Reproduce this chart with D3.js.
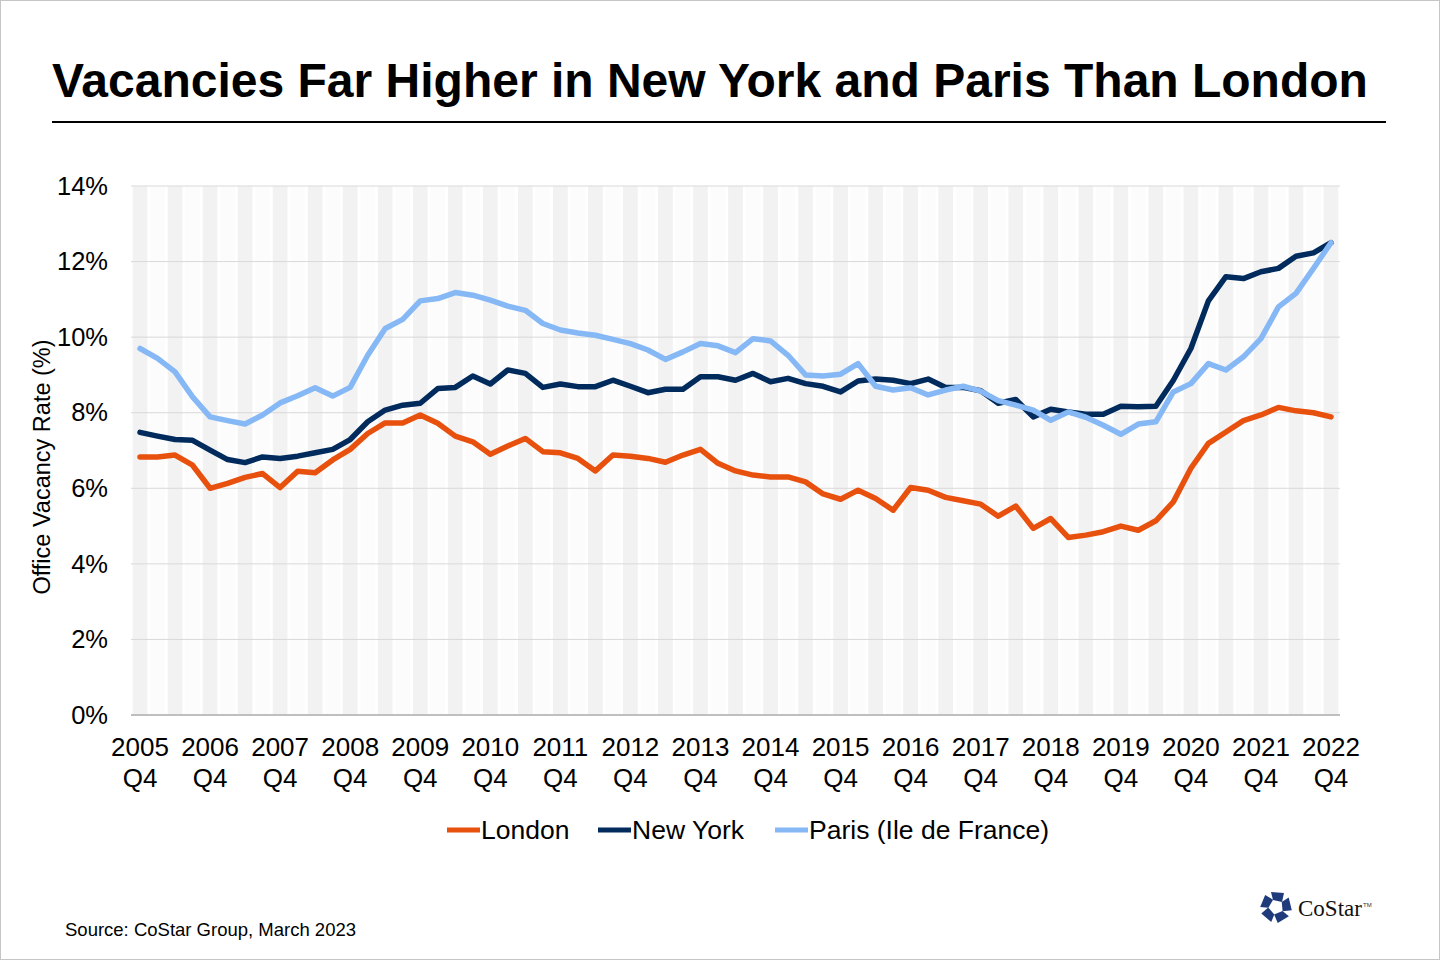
<!DOCTYPE html>
<html lang="en">
<head>
<meta charset="UTF-8">
<title>Office vacancy rates</title>
<style>
  body { margin: 0; background: #fff; }
  svg { display: block; font-family: "Liberation Sans", Arial, sans-serif; }
</style>
</head>
<body>
<svg id="chart" width="1440" height="960"></svg>
<script src="https://cdn.jsdelivr.net/npm/d3@7"></script>
<script>
// quarterly office vacancy rate (%), 2005 Q4 .. 2022 Q4
const periods = [];
d3.range(2005, 2023).forEach(function (y) {
  [1, 2, 3, 4].forEach(function (q) {
    if (y === 2005 && q < 4) return;
    periods.push(y + " Q" + q);
  });
});

const london = [6.83,6.83,6.88,6.61,6.00,6.13,6.29,6.39,6.02,6.45,6.41,6.75,7.03,7.45,
  7.73,7.73,7.94,7.72,7.38,7.23,6.90,7.12,7.32,6.97,6.94,6.79,6.46,6.88,
  6.85,6.79,6.69,6.88,7.03,6.66,6.46,6.35,6.30,6.30,6.17,5.85,5.71,5.95,
  5.73,5.42,6.02,5.95,5.76,5.67,5.58,5.26,5.53,4.94,5.20,4.70,4.76,4.85,
  5.00,4.89,5.14,5.64,6.53,7.19,7.49,7.79,7.94,8.14,8.05,8.00,7.89];

const newYork = [7.48,7.38,7.29,7.27,7.01,6.76,6.68,6.83,6.79,6.85,6.94,7.03,7.29,7.76,
  8.07,8.20,8.25,8.64,8.67,8.97,8.76,9.13,9.04,8.67,8.76,8.69,8.69,8.86,
  8.70,8.53,8.62,8.62,8.95,8.95,8.86,9.04,8.82,8.91,8.77,8.70,8.55,8.84,
  8.89,8.86,8.77,8.89,8.67,8.67,8.58,8.25,8.35,7.89,8.09,8.02,7.96,7.96,
  8.17,8.16,8.17,8.86,9.70,10.96,11.60,11.55,11.73,11.82,12.14,12.23,12.50];

const paris = [9.70,9.44,9.08,8.42,7.89,7.79,7.70,7.94,8.26,8.45,8.66,8.44,8.67,9.52,
  10.23,10.47,10.96,11.02,11.18,11.11,10.98,10.82,10.71,10.36,10.19,10.11,10.05,9.94,
  9.83,9.66,9.41,9.61,9.83,9.77,9.59,9.96,9.90,9.52,9.00,8.97,9.02,9.30,
  8.70,8.60,8.66,8.47,8.60,8.70,8.57,8.32,8.20,8.07,7.80,8.02,7.88,7.67,
  7.43,7.70,7.76,8.55,8.77,9.30,9.13,9.48,9.96,10.80,11.16,11.82,12.50];

const seriesNames = ["London", "New York", "Paris (Ile de France)"];
const seriesColors = ["#e8500e", "#002b5c", "#85b8f5"];
const yTicks = [0, 2, 4, 6, 8, 10, 12, 14];

const svg = d3.select("#chart");

// frame
svg.append("rect")
  .attr("x", 0.5).attr("y", 0.5)
  .attr("width", 1439).attr("height", 959)
  .attr("fill", "#fff").attr("stroke", "#c6c6c6");

// title
svg.append("text")
  .attr("x", 52).attr("y", 97)
  .attr("font-size", 48).attr("font-weight", "bold")
  .attr("fill", "#000")
  .text("Vacancies Far Higher in New York and Paris Than London");

svg.append("line")
  .attr("x1", 52).attr("x2", 1386)
  .attr("y1", 122).attr("y2", 122)
  .attr("stroke", "#000").attr("stroke-width", 2);

// scales
const x = d3.scaleBand()
  .domain(periods)
  .range([131.25, 1339.75])
  .padding(0);

const y = d3.scaleLinear()
  .domain([0, 14])
  .range([715, 186]);

const cx = function (i) { return x(periods[i]) + x.bandwidth() / 2; };

// background columns
svg.append("g")
  .selectAll("rect")
  .data(periods)
  .enter().append("rect")
  .attr("x", function (d) { return x(d) + x.bandwidth() * 0.08; })
  .attr("width", x.bandwidth() * 0.84)
  .attr("y", y(14))
  .attr("height", y(0) - y(14))
  .attr("fill", function (d, i) { return i % 2 === 0 ? "#f2f2f2" : "#fcfcfc"; });

// gridlines
svg.append("g")
  .selectAll("line")
  .data(yTicks.slice(1))
  .enter().append("line")
  .attr("x1", 131).attr("x2", 1340)
  .attr("y1", function (d) { return y(d); })
  .attr("y2", function (d) { return y(d); })
  .attr("stroke", "#d9d9d9").attr("stroke-width", 1);

// y axis labels
const yAxis = d3.axisLeft(y)
  .tickValues(yTicks)
  .tickSize(0)
  .tickPadding(0)
  .tickFormat(function (d) { return d + "%"; });

const yg = svg.append("g")
  .attr("transform", "translate(108,0)")
  .call(yAxis);
yg.select(".domain").remove();
yg.selectAll("text")
  .attr("font-size", 25.5)
  .attr("font-family", "Liberation Sans, Arial, sans-serif")
  .attr("fill", "#000");

svg.append("text")
  .attr("transform", "translate(50,467) rotate(-90)")
  .attr("text-anchor", "middle")
  .attr("font-size", 23.5)
  .attr("fill", "#000")
  .text("Office Vacancy Rate (%)");

// x axis line
svg.append("line")
  .attr("x1", 131).attr("x2", 1340)
  .attr("y1", y(0)).attr("y2", y(0))
  .attr("stroke", "#bfbfbf").attr("stroke-width", 2);

// x labels, every Q4
const xLabels = periods.filter(function (d) { return d.endsWith("Q4"); });
const xl = svg.append("g")
  .selectAll("text")
  .data(xLabels)
  .enter().append("text")
  .attr("text-anchor", "middle")
  .attr("font-size", 26)
  .attr("fill", "#000");
xl.append("tspan")
  .attr("x", function (d) { return x(d) + x.bandwidth() / 2; })
  .attr("y", 756)
  .text(function (d) { return d.split(" ")[0]; });
xl.append("tspan")
  .attr("x", function (d) { return x(d) + x.bandwidth() / 2; })
  .attr("y", 787)
  .text(function (d) { return d.split(" ")[1]; });

// lines
const line = d3.line()
  .x(function (d, i) { return cx(i); })
  .y(function (d) { return y(d); });

[london, newYork, paris].forEach(function (s, k) {
  svg.append("path")
    .datum(s)
    .attr("d", line)
    .attr("fill", "none")
    .attr("stroke", seriesColors[k])
    .attr("stroke-width", 5.5)
    .attr("stroke-linejoin", "round")
    .attr("stroke-linecap", "round");
});

// legend
const legendX = [447, 598, 775];
const lg = svg.append("g")
  .selectAll("g")
  .data(seriesNames)
  .enter().append("g")
  .attr("transform", function (d, i) { return "translate(" + legendX[i] + ",830)"; });
lg.append("line")
  .attr("x1", 0).attr("x2", 33)
  .attr("y1", 0).attr("y2", 0)
  .attr("stroke", function (d, i) { return seriesColors[i]; })
  .attr("stroke-width", 5);
lg.append("text")
  .attr("x", 34).attr("y", 9)
  .attr("font-size", 26.5)
  .attr("fill", "#000")
  .text(function (d) { return d; });

// source
svg.append("text")
  .attr("x", 65).attr("y", 936)
  .attr("font-size", 18.5)
  .attr("fill", "#000")
  .text("Source: CoStar Group, March 2023");

// logo
const logo = svg.append("g").attr("transform", "translate(1276,907)");
d3.range(5).forEach(function (k) {
  logo.append("polygon")
    .attr("points", "-5,-15 8,-14 6,-5 -3,-7")
    .attr("fill", "#1f3b7c")
    .attr("transform", "rotate(" + (k * 72) + ")");
});
svg.append("text")
  .attr("x", 1298).attr("y", 916)
  .attr("font-family", "Liberation Serif, DejaVu Serif, serif")
  .attr("font-size", 23)
  .attr("fill", "#111")
  .text("CoStar");
svg.append("text")
  .attr("x", 1363).attr("y", 907)
  .attr("font-size", 6)
  .attr("fill", "#333")
  .text("TM");
</script>
</body>
</html>
